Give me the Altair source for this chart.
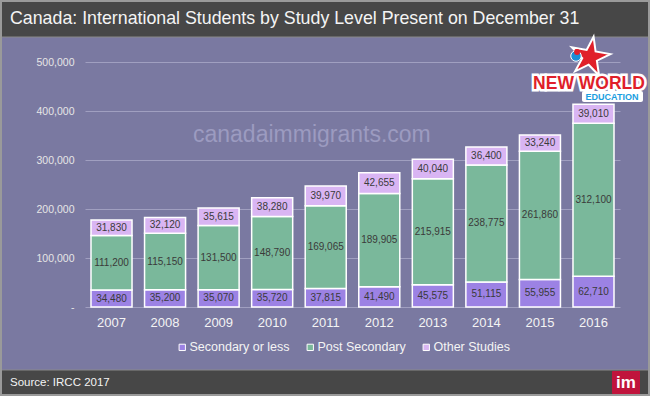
import altair as alt
import pandas as pd

years = ["2007", "2008", "2009", "2010", "2011", "2012", "2013", "2014", "2015", "2016"]
secondary = [34480, 35200, 35070, 35720, 37815, 41490, 45575, 51115, 55955, 62710]
post_secondary = [111200, 115150, 131500, 148790, 169065, 189905, 215915, 238775, 261860, 312100]
other_studies = [31830, 32120, 35615, 38280, 39970, 42655, 40040, 36400, 33240, 39010]
series = ["Secondary or less", "Post Secondary", "Other Studies"]
colors = ["#9c82e4", "#7ab89b", "#d9b5f3"]
y_ticks = [0, 100000, 200000, 300000, 400000, 500000]

rows = []
for i, y in enumerate(years):
    for k, (name, vals) in enumerate(zip(series, [secondary, post_secondary, other_studies])):
        rows.append({"year": y, "series": name, "value": vals[i], "ord": k})
df = pd.DataFrame(rows)

FONT = "Liberation Sans"
PL, PT = 85, 62  # plot origin in page pixels
W, H = 535, 245

x_enc = alt.X("year:N", title=None, sort=years,
              scale=alt.Scale(paddingInner=0.234, paddingOuter=0.112),
              axis=alt.Axis(labelAngle=0, labelColor="#f4f4f4", labelFontSize=13,
                            labelFont=FONT, labelPadding=9, ticks=False, domain=False, grid=False))

bars = alt.Chart(df).mark_bar(stroke="white", strokeWidth=1.5).encode(
    x=x_enc,
    y=alt.Y("value:Q", stack="zero", title=None,
            scale=alt.Scale(domain=[0, 500000], nice=False),
            axis=alt.Axis(values=y_ticks, labelExpr="datum.value == 0 ? '-' : format(datum.value, ',')",
                          labelColor="#e6e6e6", labelFontSize=10.5, labelFont=FONT, labelPadding=11,
                          ticks=False, domain=False, gridColor="#a09fc0", gridWidth=1)),
    color=alt.Color("series:N", scale=alt.Scale(domain=series, range=colors),
                    legend=alt.Legend(title=None, orient="none", legendX=91, legendY=279,
                                      direction="horizontal", symbolType="square", symbolSize=40,
                                      symbolStrokeColor="white", symbolStrokeWidth=1,
                                      symbolOpacity=1, labelColor="#f4f4f4", labelFontSize=12.5,
                                      labelFont=FONT, labelOffset=1, columnPadding=14, padding=0)),
    order=alt.Order("ord:Q", sort="ascending"),
)

labels = alt.Chart(df).transform_stack(
    stack="value", groupby=["year"], sort=[alt.SortField("ord", order="ascending")], as_=["y0", "y1"]
).transform_calculate(mid="(datum.y0 + datum.y1) / 2").mark_text(
    font=FONT, fontSize=10, color="#3a3a3a", baseline="middle"
).encode(
    x=alt.X("year:N", sort=years),
    y=alt.Y("mid:Q"),
    text=alt.Text("value:Q", format=","),
)

one = alt.Data(values=[{"a": 1}])

def px(v):
    return alt.value(v - PL)

def py(v):
    return alt.value(v - PT)

title_bar = alt.Chart(one).mark_rect(color="#474747", stroke="#8a8a8a", strokeWidth=1).encode(
    x=px(1), x2=px(649), y=py(1), y2=py(37))
title_txt = alt.Chart(one).mark_text(text="Canada: International Students by Study Level Present on December 31",
                                     font=FONT, fontSize=17.8, color="#f4f4f4", align="left",
                                     baseline="middle").encode(x=px(10), y=py(19))
footer = alt.Chart(one).mark_rect(color="#474747", stroke="#8a8a8a", strokeWidth=1).encode(
    x=px(1), x2=px(649), y=py(370), y2=py(395))
footer_txt = alt.Chart(one).mark_text(text="Source: IRCC 2017", font=FONT, fontSize=11.5, color="#f4f4f4",
                                      align="left", baseline="middle").encode(x=px(10), y=py(383))
im_box = alt.Chart(one).mark_rect(color="#c0143c", cornerRadius=1).encode(
    x=px(612), x2=px(640), y=py(371), y2=py(394))
im_txt = alt.Chart(one).mark_text(text="im", font=FONT, fontSize=17, fontWeight="bold", color="white",
                                  align="center", baseline="middle").encode(x=px(626), y=py(383))
frame = alt.Chart(one).mark_rect(fill=None, stroke="#9a9a9a", strokeWidth=2).encode(
    x=px(1), x2=px(649), y=py(1), y2=py(395))

watermark = alt.Chart(one).mark_text(text="canadaimmigrants.com", font=FONT, fontSize=23,
                                     color="#9c9bc0", align="left", baseline="middle").encode(
    x=px(193), y=py(135))

star_path = "M0,-1L0.22,-0.31L0.95,-0.31L0.36,0.12L0.59,0.81L0,0.38L-0.59,0.81L-0.36,0.12L-0.95,-0.31L-0.22,-0.31Z"
star = alt.Chart(one).mark_point(shape=star_path, filled=True, color="#e0202a", stroke="white",
                                 strokeWidth=2, size=1700, opacity=1, angle=10).encode(x=px(590), y=py(57))
figure = alt.Chart(one).mark_point(shape="circle", filled=True, color="#1b8fd6", stroke="white",
                                   strokeWidth=1, size=110, opacity=1).encode(x=px(576), y=py(56))
cap = alt.Chart(one).mark_point(shape="circle", filled=True, color="#e0202a", size=35,
                                opacity=1).encode(x=px(577), y=py(52))
nw_bg = alt.Chart(one).mark_text(text="NEW WORLD", font=FONT, fontSize=17.5, fontWeight="bold",
                                 color="white", stroke="white", strokeWidth=5, align="center",
                                 baseline="middle").encode(x=px(589), y=py(84))
nw = alt.Chart(one).mark_text(text="NEW WORLD", font=FONT, fontSize=17.5, fontWeight="bold",
                              color="#e01f2a", align="center", baseline="middle").encode(x=px(589), y=py(84))
edu_bg = alt.Chart(one).mark_rect(color="white", cornerRadius=2).encode(
    x=px(582), x2=px(643), y=py(91), y2=py(102))
edu = alt.Chart(one).mark_text(text="EDUCATION", font=FONT, fontSize=9, fontWeight="bold",
                               color="#1a9ee0", align="center", baseline="middle").encode(x=px(612), y=py(96.5))

chart = alt.layer(
    title_bar, footer, frame, watermark, bars, labels, title_txt, footer_txt, im_box, im_txt,
    edu_bg, star, figure, cap, nw_bg, nw, edu
).properties(
    width=W, height=H,
    autosize=alt.AutoSizeParams(type="none"),
    padding={"left": PL, "top": PT, "right": 650 - PL - W, "bottom": 396 - PT - H},
    background="#7a79a1",
).configure_view(stroke=None)

chart.save("out.html", embed_options={"renderer": "svg", "actions": False})
